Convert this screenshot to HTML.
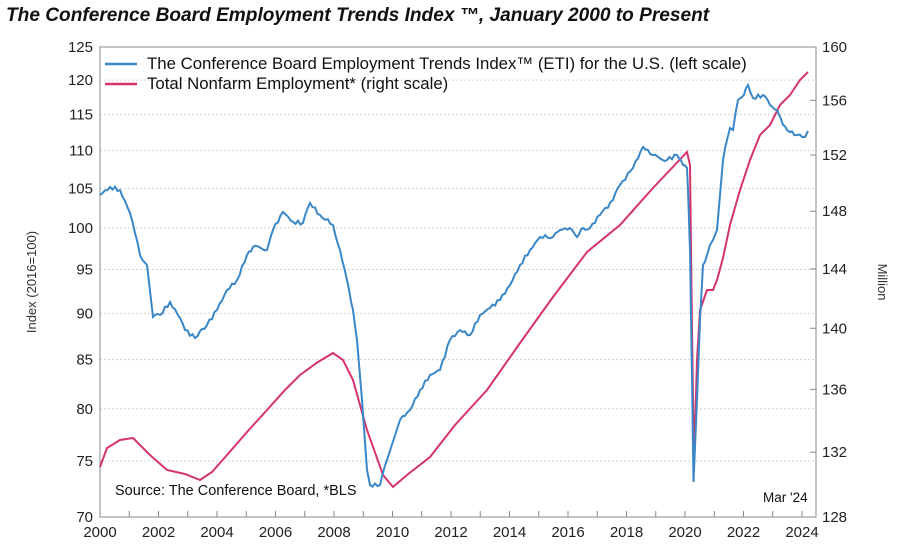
<!DOCTYPE html>
<html><head><meta charset="utf-8"><style>
body{margin:0;background:#fff;width:900px;height:548px;overflow:hidden;font-family:"Liberation Sans",sans-serif}
</style></head><body>
<svg id="s" width="900" height="548" xmlns="http://www.w3.org/2000/svg" font-family="Liberation Sans, sans-serif">
<text x="6" y="21" font-size="19.1" font-weight="bold" font-style="italic" fill="#111">The Conference Board Employment Trends Index ™, January 2000 to Present</text>
<g id="grid"></g>
<rect x="100" y="47" width="716" height="470" fill="none" stroke="#888" stroke-width="1"/>
<g id="lab" font-size="15" fill="#222"></g>
<text transform="translate(36,282) rotate(-90)" text-anchor="middle" font-size="13" fill="#333">Index (2016=100)</text>
<text transform="translate(878,282) rotate(90)" text-anchor="middle" font-size="13" fill="#333">Million</text>
<path id="nf" fill="none" stroke="#d6336c" stroke-width="2"/>
<path id="eti" fill="none" stroke="#3a87c8" stroke-width="2"/>
<line x1="105" y1="64" x2="137" y2="64" stroke="#3a87c8" stroke-width="2.5"/>
<line x1="105" y1="84" x2="137" y2="84" stroke="#d6336c" stroke-width="2.5"/>
<text x="147" y="69" font-size="16.8" fill="#111">The Conference Board Employment Trends Index™ (ETI) for the U.S. (left scale)</text>
<text x="147" y="89" font-size="16.8" fill="#111">Total Nonfarm Employment* (right scale)</text>
<text x="115" y="495" font-size="14.5" fill="#111">Source: The Conference Board, *BLS</text>
<text x="763" y="502" font-size="13.5" fill="#111">Mar '24</text>
</svg>
<script>
const X=y=>100+(y-2000)*29.25;
const L=v=>47+Math.log(125/v)*810.6, R=v=>47+Math.log(160/v)*2106.3;
let g='',lab='';
for(let v=70;v<=125;v+=5){let y=L(v);if(v>70&&v<125)g+=`<line x1="100" x2="816" y1="${y}" y2="${y}" stroke="#d4d4d4" stroke-dasharray="2,2"/>`;lab+=`<text x="93" y="${y+5}" text-anchor="end">${v}</text>`;}
for(let v=128;v<=160;v+=4){let y=R(v);g+=`<line x1="810" x2="816" y1="${y}" y2="${y}" stroke="#888"/>`;lab+=`<text x="822" y="${y+5}">${v}</text>`;}
for(let yr=2000;yr<=2024;yr+=1){let x=X(yr);g+=`<line x1="${x}" x2="${x}" y1="511" y2="517" stroke="#888"/>`;if(yr%2==0)lab+=`<text x="${x}" y="537" text-anchor="middle">${yr}</text>`;}
document.getElementById('grid').innerHTML=g;document.getElementById('lab').innerHTML=lab;
const E=[[100,195],[110,187],[120,190],[130,213],[135,233],[140,255],[147,265],[153,317],[160,315],[170,302],[180,318],[185,330],[195,338],[207,325],[217,310],[227,290],[237,280],[247,255],[253,247],[267,250],[273,230],[283,212],[293,222],[303,223],[310,203],[320,215],[333,225],[340,250],[347,280],[353,310],[357,340],[362,400],[367,470],[370,485],[380,485],[387,460],[400,420],[410,410],[420,390],[430,375],[440,370],[450,340],[460,330],[470,335],[480,315],[490,308],[500,300],[510,285],[520,265],[530,250],[540,237],[553,237],[560,230],[570,228],[577,237],[583,228],[590,228],[600,215],[613,200],[620,185],[633,168],[643,147],[653,155],[667,160],[677,155],[683,165],[687,168],[688,190],[690,250],[692,380],[693.5,482],[697,400],[700,320],[703,265],[707,255],[710,245],[713,240],[717,230],[720,195],[723,160],[727,140],[730,128],[733,130],[738,100],[742,97],[748,85],[753,98],[763,95],[770,105],[777,110],[783,125],[787,130],[797,135],[805,137],[808,131]];
const N=[[100,467],[107,448],[120,440],[133,438],[150,455],[167,470],[185,474],[200,480],[212,472],[227,455],[247,432],[267,410],[285,390],[300,375],[318,362],[333,353],[343,360],[353,380],[367,430],[383,475],[393,487],[407,475],[430,457],[455,425],[487,390],[520,343],[553,297],[587,252],[620,225],[653,188],[687,152],[690,165],[692,330],[694,462],[697,360],[700,310],[707,290],[713,290],[717,280],[723,258],[730,225],[740,190],[750,160],[760,135],[770,125],[780,105],[790,95],[800,80],[808,72]];
let pe='';
for(let i=0;i<E.length-1;i++){let p=E[i],q=E[i+1];let n=Math.max(1,Math.round((q[0]-p[0])/2.4));for(let k=0;k<n;k++){let x=p[0]+(q[0]-p[0])*k/n,y=p[1]+(q[1]-p[1])*k/n;let j=(k>0&&Math.abs(q[1]-p[1])<40)?Math.sin(x*13.7)*1.8:0;pe+=(pe?'L':'M')+x.toFixed(1)+','+(y+j).toFixed(1);}}
pe+='L'+E[E.length-1].join(',');
let pn='';N.forEach((p,i)=>pn+=(i?'L':'M')+p[0]+','+p[1]);
document.getElementById('eti').setAttribute('d',pe);document.getElementById('nf').setAttribute('d',pn);
</script>
</body></html>
